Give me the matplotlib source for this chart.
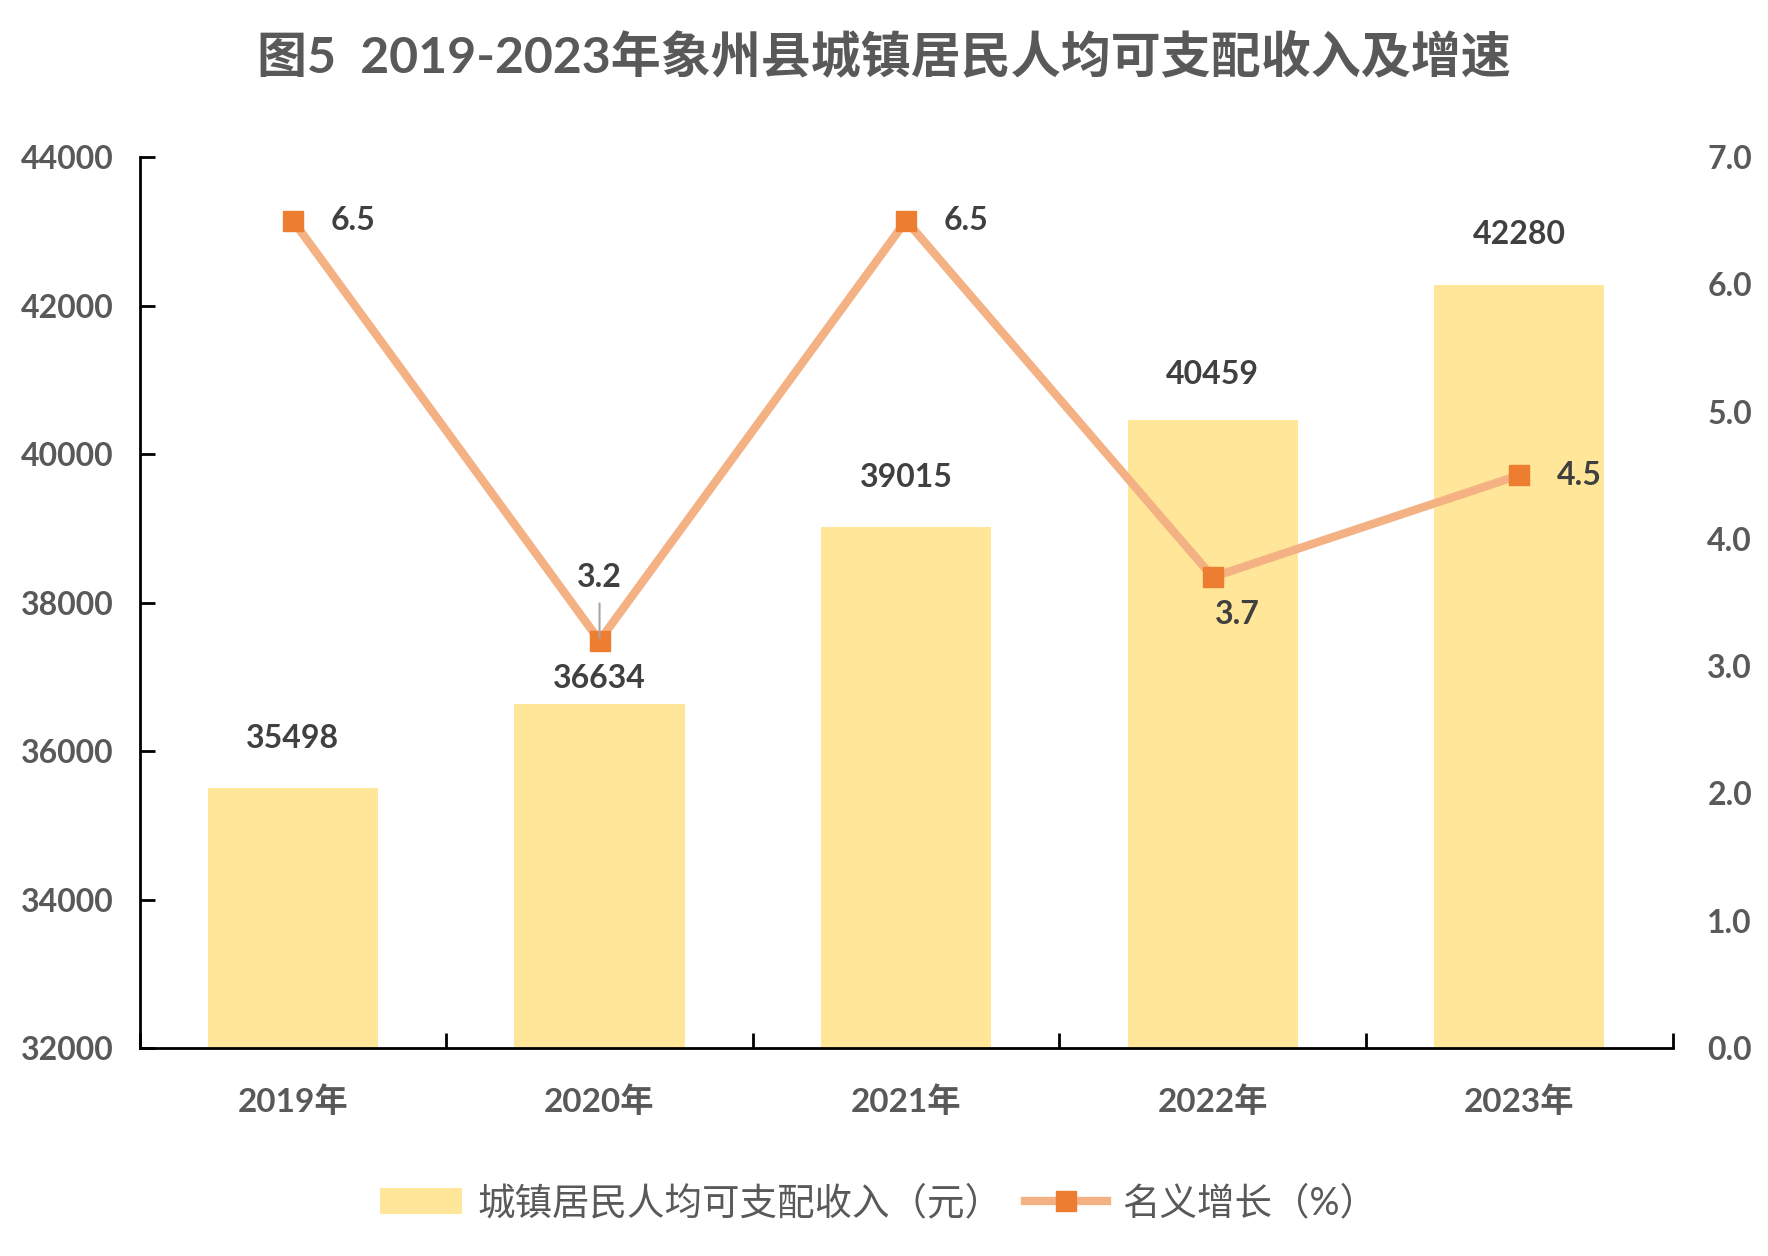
import numpy as np
import matplotlib.pyplot as plt
from matplotlib.lines import Line2D
from matplotlib.patches import Patch

# data
years = ["2019年", "2020年", "2021年", "2022年", "2023年"]
income = [35498, 36634, 39015, 40459, 42280]
growth = [6.5, 3.2, 6.5, 3.7, 4.5]
left_ticks = [32000, 34000, 36000, 38000, 40000, 42000, 44000]
right_ticks = [0, 1, 2, 3, 4, 5, 6, 7]

title = "图5  2019-2023年象州县城镇居民人均可支配收入及增速"
bar_name = "城镇居民人均可支配收入（元）"
line_name = "名义增长（%）"

# colours
bar_color = "#FFE699"
line_color = "#F4B183"
mark_color = "#ED7D31"
tick_color = "#595959"
label_color = "#404040"

fam = ["Lato", "Noto Sans CJK SC", "DejaVu Sans"]
plt.rcParams["font.family"] = fam

fig = plt.figure(figsize=(17.68, 12.56), dpi=100)
ax = fig.add_axes([0.079, 0.1656, 0.867, 0.7094])
ax2 = ax.twinx()

x = np.arange(len(years))
ax.bar(x, income, width=0.555, color=bar_color, zorder=2)
ax.set_ylim(32000, 44000)
ax.set_xlim(-0.5, len(years) - 0.5)
ax.set_yticks(left_ticks)
ax.set_yticklabels([str(v) for v in left_ticks], fontsize=23, fontweight="bold", color=tick_color)
ax.tick_params(axis="y", direction="in", length=11, width=2, pad=19, color="black")

ax.set_xticks(x)
ax.set_xticklabels(years, fontsize=24, fontweight="bold", color=tick_color)
ax.tick_params(axis="x", which="major", length=0, pad=27)
ax.set_xticks(np.arange(-0.5, len(years), 1.0), minor=True)
ax.tick_params(axis="x", which="minor", direction="in", length=11, width=2, color="black")

for s in ["top", "right"]:
    ax.spines[s].set_visible(False)
for s in ["left", "bottom"]:
    ax.spines[s].set_linewidth(2)
    ax.spines[s].set_color("black")

# bar value labels
bar_off = [50, 25, 50, 45, 50]
for i, v in enumerate(income):
    ax.annotate(str(v), xy=(x[i], v), xytext=(0, bar_off[i]), textcoords="offset pixels",
                ha="center", va="center", fontsize=23, fontweight="bold", color=label_color, zorder=5)

# growth line
ax2.plot(x, growth, color=line_color, lw=6, zorder=3, solid_capstyle="butt")
ax2.plot(x, growth, ls="none", marker="s", ms=15, color=mark_color, zorder=4)
ax2.set_ylim(0, 7)
ax2.set_yticks(right_ticks)
ax2.set_yticklabels(["%.1f" % v for v in right_ticks], fontsize=23, fontweight="bold", color=tick_color)
ax2.tick_params(axis="y", length=0, pad=25)
for s in ax2.spines.values():
    s.set_visible(False)

# growth labels: (dx, dy, ha) in pixels
line_off = [(38, 0, "left"), (0, 63, "center"), (38, 0, "left"), (2, -37, "left"), (38, 0, "left")]
for i, v in enumerate(growth):
    dx, dy, ha = line_off[i]
    ax2.annotate("%.1f" % v, xy=(x[i], v), xytext=(dx, dy), textcoords="offset pixels",
                 ha=ha, va="center", fontsize=23, fontweight="bold", color=label_color, zorder=5)
# leader line for the 3.2 label
ax2.annotate("", xy=(x[1], growth[1]), xytext=(0, 40), textcoords="offset pixels",
             arrowprops=dict(arrowstyle="-", color="#A6A6A6", lw=1.5), zorder=5)

fig.suptitle(title, x=0.5, y=0.955, va="center", fontsize=36, fontweight="bold", color=tick_color)

handles = [Patch(facecolor=bar_color, edgecolor="none"),
           Line2D([], [], color=line_color, lw=6, marker="s", ms=15,
                  markerfacecolor=mark_color, markeredgecolor=mark_color)]
fig.legend(handles, [bar_name, line_name], loc="center", bbox_to_anchor=(0.497, 0.042), ncol=2,
           frameon=False, prop={"family": fam, "size": 27}, labelcolor=tick_color,
           handlelength=2.2, handleheight=0.7, columnspacing=0.6, handletextpad=0.4)

fig.savefig("out.png", dpi=100)
